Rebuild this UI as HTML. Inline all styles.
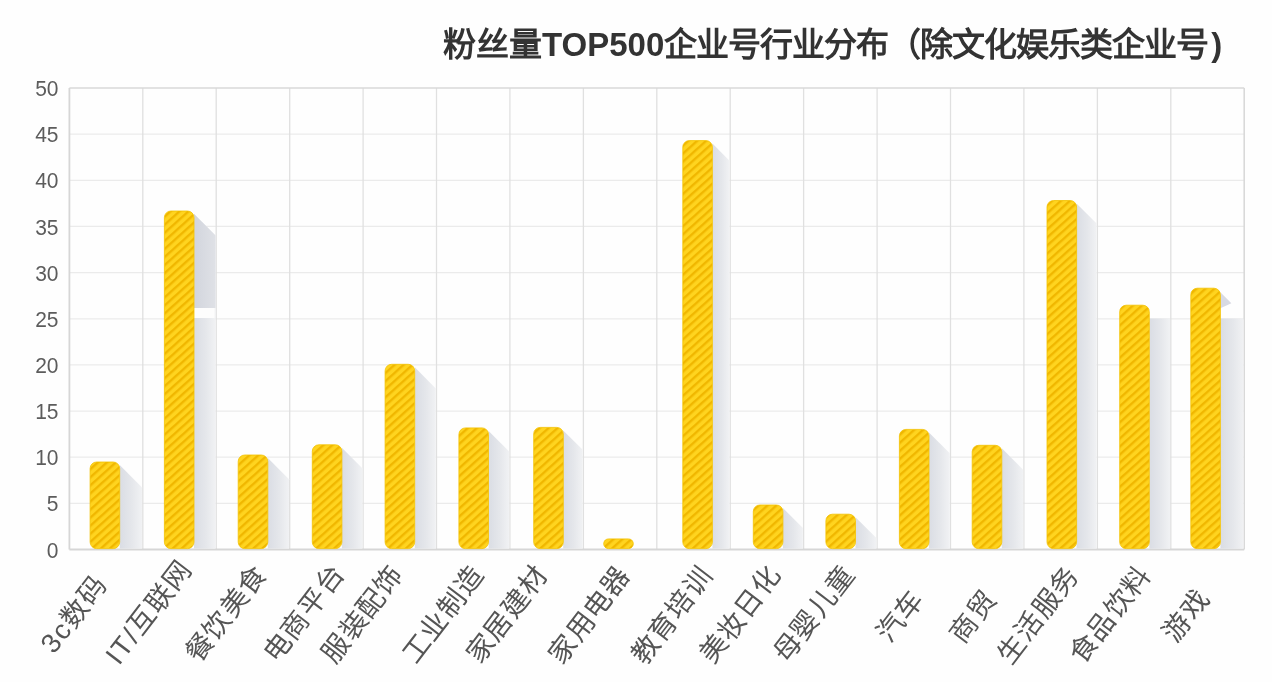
<!DOCTYPE html>
<html lang="zh-CN"><head><meta charset="utf-8">
<style>
html,body{margin:0;padding:0;background:#fefefe;}
body{width:1272px;height:682px;overflow:hidden;position:relative;font-family:"Liberation Sans",sans-serif;}
.title{position:absolute;left:443px;top:25px;font-size:33px;line-height:40px;font-weight:bold;color:#333;white-space:nowrap;}
.title .c{letter-spacing:-1px;}
svg{position:absolute;left:0;top:0;}
#wrap{position:absolute;left:0;top:0;width:1272px;height:682px;filter:blur(0.6px);}
.yl text{font-size:21px;fill:#5c5c5c;font-family:"Liberation Sans",sans-serif;}
.xl text{font-size:27.5px;letter-spacing:1.5px;fill:#555;font-family:"Liberation Sans",sans-serif;}
</style></head><body>
<div id="wrap">
<svg width="1272" height="682" viewBox="0 0 1272 682">
<defs>
<pattern id="st" width="6" height="10" patternUnits="userSpaceOnUse" patternTransform="rotate(48)">
<rect width="6" height="10" fill="#ffd41f"/>
<rect width="2.4" height="10" fill="#f0b700"/>
</pattern>
<linearGradient id="sg" x1="0" y1="0" x2="1" y2="0">
<stop offset="0" stop-color="#dadde4"/>
<stop offset="0.55" stop-color="#e5e7eb"/>
<stop offset="1" stop-color="#f1f2f4"/>
</linearGradient>
<linearGradient id="sg2" x1="0" y1="0" x2="1" y2="0">
<stop offset="0" stop-color="#d2d5dd"/>
<stop offset="1" stop-color="#dfe1e6"/>
</linearGradient>
</defs>
<g><line x1="69.4" y1="134.2" x2="1244.2" y2="134.2" stroke="#ebebeb" stroke-width="1.3"/><line x1="69.4" y1="180.3" x2="1244.2" y2="180.3" stroke="#ebebeb" stroke-width="1.3"/><line x1="69.4" y1="226.4" x2="1244.2" y2="226.4" stroke="#ebebeb" stroke-width="1.3"/><line x1="69.4" y1="272.6" x2="1244.2" y2="272.6" stroke="#ebebeb" stroke-width="1.3"/><line x1="69.4" y1="318.8" x2="1244.2" y2="318.8" stroke="#ebebeb" stroke-width="1.3"/><line x1="69.4" y1="364.9" x2="1244.2" y2="364.9" stroke="#ebebeb" stroke-width="1.3"/><line x1="69.4" y1="411.1" x2="1244.2" y2="411.1" stroke="#ebebeb" stroke-width="1.3"/><line x1="69.4" y1="457.2" x2="1244.2" y2="457.2" stroke="#ebebeb" stroke-width="1.3"/><line x1="69.4" y1="503.3" x2="1244.2" y2="503.3" stroke="#ebebeb" stroke-width="1.3"/><line x1="142.8" y1="88" x2="142.8" y2="549.5" stroke="#e0e0e0" stroke-width="1.3"/><line x1="216.2" y1="88" x2="216.2" y2="549.5" stroke="#e0e0e0" stroke-width="1.3"/><line x1="289.7" y1="88" x2="289.7" y2="549.5" stroke="#e0e0e0" stroke-width="1.3"/><line x1="363.1" y1="88" x2="363.1" y2="549.5" stroke="#e0e0e0" stroke-width="1.3"/><line x1="436.5" y1="88" x2="436.5" y2="549.5" stroke="#e0e0e0" stroke-width="1.3"/><line x1="509.9" y1="88" x2="509.9" y2="549.5" stroke="#e0e0e0" stroke-width="1.3"/><line x1="583.4" y1="88" x2="583.4" y2="549.5" stroke="#e0e0e0" stroke-width="1.3"/><line x1="656.8" y1="88" x2="656.8" y2="549.5" stroke="#e0e0e0" stroke-width="1.3"/><line x1="730.2" y1="88" x2="730.2" y2="549.5" stroke="#e0e0e0" stroke-width="1.3"/><line x1="803.6" y1="88" x2="803.6" y2="549.5" stroke="#e0e0e0" stroke-width="1.3"/><line x1="877.1" y1="88" x2="877.1" y2="549.5" stroke="#e0e0e0" stroke-width="1.3"/><line x1="950.5" y1="88" x2="950.5" y2="549.5" stroke="#e0e0e0" stroke-width="1.3"/><line x1="1023.9" y1="88" x2="1023.9" y2="549.5" stroke="#e0e0e0" stroke-width="1.3"/><line x1="1097.4" y1="88" x2="1097.4" y2="549.5" stroke="#e0e0e0" stroke-width="1.3"/><line x1="1170.8" y1="88" x2="1170.8" y2="549.5" stroke="#e0e0e0" stroke-width="1.3"/><line x1="69.4" y1="88" x2="1244.2" y2="88" stroke="#d9d9d9" stroke-width="1.6"/><line x1="1244.2" y1="88" x2="1244.2" y2="549.5" stroke="#d9d9d9" stroke-width="1.6"/><line x1="69.4" y1="88" x2="69.4" y2="549.5" stroke="#d6d6d6" stroke-width="1.8"/><line x1="69.4" y1="549.5" x2="1244.2" y2="549.5" stroke="#d6d6d6" stroke-width="1.8"/></g>
<g><polygon points="119.7,465.0 142.1,487.4 142.1,548.6 119.7,548.6" fill="url(#sg)"/><polygon points="194.0,214.0 215.6,235.6 215.6,548.6 194.0,548.6" fill="url(#sg)"/><polygon points="194.0,214.0 215.6,235.6 215.6,308 194.0,308" fill="url(#sg2)"/><rect x="194.0" y="308" width="20.6" height="10" fill="#fdfdfd"/><polygon points="267.8,458.0 289.0,479.2 289.0,548.6 267.8,548.6" fill="url(#sg)"/><polygon points="341.9,447.8 362.4,468.3 362.4,548.6 341.9,548.6" fill="url(#sg)"/><polygon points="414.8,367.3 435.8,388.4 435.8,548.6 414.8,548.6" fill="url(#sg)"/><polygon points="488.6,430.9 509.2,451.6 509.2,548.6 488.6,548.6" fill="url(#sg)"/><polygon points="563.2,430.4 582.7,449.8 582.7,548.6 563.2,548.6" fill="url(#sg)"/><polygon points="712.4,143.6 729.5,160.7 729.5,548.6 712.4,548.6" fill="url(#sg)"/><polygon points="782.9,508.0 802.9,528.1 802.9,548.6 782.9,548.6" fill="url(#sg)"/><polygon points="855.5,517.2 876.4,538.1 876.4,548.6 855.5,548.6" fill="url(#sg)"/><polygon points="928.9,432.4 949.8,453.2 949.8,548.6 928.9,548.6" fill="url(#sg)"/><polygon points="1001.8,448.3 1023.2,469.7 1023.2,548.6 1001.8,548.6" fill="url(#sg)"/><polygon points="1076.5,203.5 1096.7,223.6 1096.7,548.6 1076.5,548.6" fill="url(#sg)"/><rect x="1149.3" y="318.5" width="20.8" height="230.1" fill="url(#sg)"/><rect x="1220.4" y="318.5" width="23.1" height="230.1" fill="url(#sg)"/><polygon points="1220.4,292.2 1231.4,303.2 1220.4,308.2" fill="#d8dae3"/></g>
<g><rect x="90.1" y="462.0" width="29.6" height="86.6" rx="6.5" fill="url(#st)" stroke="#f2c200" stroke-width="0.8"/><rect x="164.4" y="211.0" width="29.6" height="337.6" rx="6.5" fill="url(#st)" stroke="#f2c200" stroke-width="0.8"/><rect x="238.2" y="455.0" width="29.6" height="93.6" rx="6.5" fill="url(#st)" stroke="#f2c200" stroke-width="0.8"/><rect x="312.3" y="444.8" width="29.6" height="103.8" rx="6.5" fill="url(#st)" stroke="#f2c200" stroke-width="0.8"/><rect x="385.1" y="364.3" width="29.6" height="184.3" rx="6.5" fill="url(#st)" stroke="#f2c200" stroke-width="0.8"/><rect x="458.9" y="427.9" width="29.6" height="120.7" rx="6.5" fill="url(#st)" stroke="#f2c200" stroke-width="0.8"/><rect x="533.7" y="427.4" width="29.6" height="121.2" rx="6.5" fill="url(#st)" stroke="#f2c200" stroke-width="0.8"/><rect x="603.7" y="538.9" width="29.6" height="9.7" rx="4.850000000000023" fill="url(#st)" stroke="#f2c200" stroke-width="0.8"/><rect x="682.8" y="140.6" width="29.6" height="408.0" rx="6.5" fill="url(#st)" stroke="#f2c200" stroke-width="0.8"/><rect x="753.3" y="505.0" width="29.6" height="43.6" rx="6.5" fill="url(#st)" stroke="#f2c200" stroke-width="0.8"/><rect x="825.9" y="514.2" width="29.6" height="34.4" rx="6.5" fill="url(#st)" stroke="#f2c200" stroke-width="0.8"/><rect x="899.4" y="429.4" width="29.6" height="119.2" rx="6.5" fill="url(#st)" stroke="#f2c200" stroke-width="0.8"/><rect x="972.2" y="445.3" width="29.6" height="103.3" rx="6.5" fill="url(#st)" stroke="#f2c200" stroke-width="0.8"/><rect x="1047.0" y="200.5" width="29.6" height="348.1" rx="6.5" fill="url(#st)" stroke="#f2c200" stroke-width="0.8"/><rect x="1119.7" y="305.2" width="29.6" height="243.4" rx="6.5" fill="url(#st)" stroke="#f2c200" stroke-width="0.8"/><rect x="1190.8" y="288.2" width="29.6" height="260.4" rx="6.5" fill="url(#st)" stroke="#f2c200" stroke-width="0.8"/></g>
<g class="yl"><text transform="translate(58.5,96.1) scale(1,1.08)" text-anchor="end">50</text><text transform="translate(58.5,142.2) scale(1,1.08)" text-anchor="end">45</text><text transform="translate(58.5,188.4) scale(1,1.08)" text-anchor="end">40</text><text transform="translate(58.5,234.5) scale(1,1.08)" text-anchor="end">35</text><text transform="translate(58.5,280.7) scale(1,1.08)" text-anchor="end">30</text><text transform="translate(58.5,326.9) scale(1,1.08)" text-anchor="end">25</text><text transform="translate(58.5,373.0) scale(1,1.08)" text-anchor="end">20</text><text transform="translate(58.5,419.2) scale(1,1.08)" text-anchor="end">15</text><text transform="translate(58.5,465.3) scale(1,1.08)" text-anchor="end">10</text><text transform="translate(58.5,511.4) scale(1,1.08)" text-anchor="end">5</text><text transform="translate(58.5,557.6) scale(1,1.08)" text-anchor="end">0</text></g>
<g class="xl"><text transform="translate(81.1,619.7) rotate(-52.5)" text-anchor="middle">3c数码</text><text transform="translate(156.1,617.7) rotate(-52.5)" text-anchor="middle">IT/互联网</text><text transform="translate(233.8,619.2) rotate(-52.5)" text-anchor="middle">餐饮美食</text><text transform="translate(311.6,619.1) rotate(-52.5)" text-anchor="middle">电商平台</text><text transform="translate(370.1,619.6) rotate(-52.5)" text-anchor="middle">服装配饰</text><text transform="translate(450.6,620.1) rotate(-52.5)" text-anchor="middle">工业制造</text><text transform="translate(514.7,620.1) rotate(-52.5)" text-anchor="middle">家居建材</text><text transform="translate(597.0,620.6) rotate(-52.5)" text-anchor="middle">家用电器</text><text transform="translate(679.2,621.0) rotate(-52.5)" text-anchor="middle">教育培训</text><text transform="translate(748.0,620.1) rotate(-52.5)" text-anchor="middle">美妆日化</text><text transform="translate(821.5,619.2) rotate(-52.5)" text-anchor="middle">母婴儿童</text><text transform="translate(907.6,621.5) rotate(-52.5)" text-anchor="middle">汽车</text><text transform="translate(980.8,622.0) rotate(-52.5)" text-anchor="middle">商贸</text><text transform="translate(1045.6,620.5) rotate(-52.5)" text-anchor="middle">生活服务</text><text transform="translate(1117.8,620.2) rotate(-52.5)" text-anchor="middle">食品饮料</text><text transform="translate(1193.7,621.0) rotate(-52.5)" text-anchor="middle">游戏</text></g>
</svg>
<div class="title">粉丝量TOP500<span class="c">企业号行业分布（除文化娱乐类企业号</span><span style="margin-left:3px">)</span></div>
</div>
</body></html>
